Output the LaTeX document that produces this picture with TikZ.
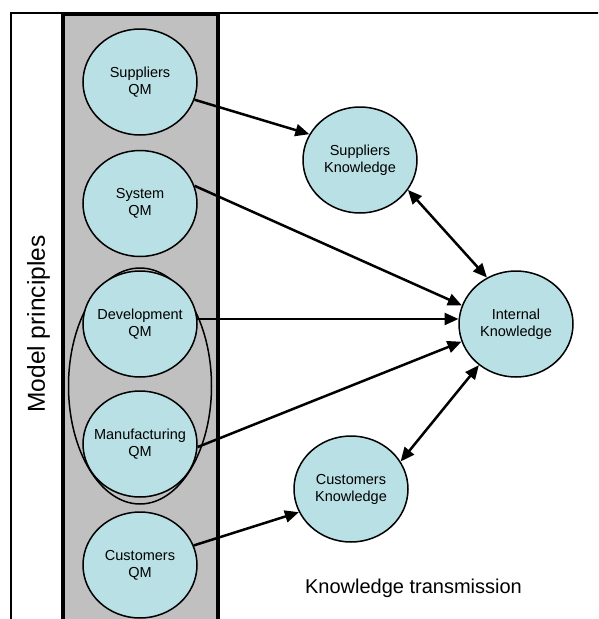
\documentclass[tikz,border=0pt]{standalone}
\usepackage{fontspec}
\setmainfont{Liberation Sans}
\usetikzlibrary{shapes.geometric,arrows.meta}
\definecolor{nodefill}{RGB}{185,224,228}
\definecolor{colgray}{RGB}{192,192,192}
\begin{document}
\begin{tikzpicture}[x=1pt,y=-1pt,
  qm/.style={ellipse, draw, line width=1.5pt, fill=nodefill, minimum width=114pt, minimum height=106pt, inner sep=0pt},
  qmtext/.style={inner sep=0pt, align=center, font=\fontsize{14.5}{17}\selectfont},
  conn/.style={line width=2.5pt, -{Triangle[length=14pt,width=12pt]}},
  biconn/.style={line width=2.5pt, {Triangle[length=14pt,width=12pt]}-{Triangle[length=14pt,width=12pt]}}]
\useasboundingbox (0,0) rectangle (598,619);
\clip (0,0) rectangle (598,619);
\draw[line width=2pt] (11,630) -- (11,13) -- (610,13);
\draw[line width=4pt, fill=colgray] (63,14) rectangle (218,640);
\node[rotate=90, anchor=base, font=\fontsize{24.5}{29}\selectfont] (mp) at (45,324) {Model principles};
\node[ellipse, draw, line width=1.5pt, minimum width=143pt, minimum height=236pt, inner sep=0pt] (grp) at (140,386) {};
\node[qm] (sqm) at (140,82) {};
\node[qmtext] (sqmt) at (sqm) {Suppliers\\QM};
\node[qm] (syqm) at (140,203.5) {};
\node[qmtext] (syqmt) at (syqm) {System\\QM};
\node[qm] (dqm) at (140,324) {};
\node[qmtext] (dqmt) at (dqm) {Development\\QM};
\node[qm] (mqm) at (140,444) {};
\node[qmtext] (mqmt) at (mqm) {Manufacturing\\QM};
\node[qm] (cqm) at (140,565) {};
\node[qmtext] (cqmt) at (cqm) {Customers\\QM};
\node[qm] (sk) at (360,160) {};
\node[qmtext] (skt) at (sk) {Suppliers\\Knowledge};
\node[qm] (ik) at (516,324) {};
\node[qmtext] (ikt) at (ik) {Internal\\Knowledge};
\node[qm] (ck) at (351,489) {};
\node[qmtext] (ckt) at (ck) {Customers\\Knowledge};
\node[anchor=base, font=\fontsize{20}{24}\selectfont] (kt) at (413.5,593) {Knowledge transmission};
\draw[conn] (sqm.-18) -- (sk.153);
\draw[conn] (syqm.18) -- (ik.161);
\draw[conn] (dqm.5) -- (ik.175);
\draw[conn] (mqm.-3) -- (ik.198);
\draw[conn] (cqm.20) -- (ck.204);
\draw[biconn] (sk.-32) -- (ik.122);
\draw[biconn] (ik.228) -- (ck.29);
\end{tikzpicture}
\end{document}
